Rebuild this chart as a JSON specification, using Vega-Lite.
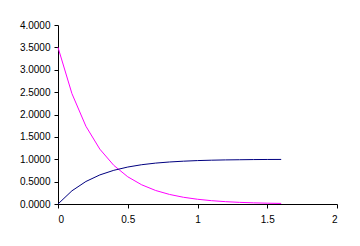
{
  "$schema": "https://vega.github.io/schema/vega-lite/v6.json",
  "autosize": {"type": "none"},
  "padding": {"left": 58, "top": 25, "right": 23, "bottom": 42},
  "width": 279,
  "height": 179,
  "background": "white",
  "config": {"view": {"stroke": null}},
  "data": {"values": [
    {"t": 0.0, "s": "A", "v": 3.5},
    {"t": 0.1, "s": "A", "v": 2.466},
    {"t": 0.2, "s": "A", "v": 1.738},
    {"t": 0.3, "s": "A", "v": 1.225},
    {"t": 0.4, "s": "A", "v": 0.863},
    {"t": 0.5, "s": "A", "v": 0.608},
    {"t": 0.6, "s": "A", "v": 0.429},
    {"t": 0.7, "s": "A", "v": 0.302},
    {"t": 0.8, "s": "A", "v": 0.213},
    {"t": 0.9, "s": "A", "v": 0.150},
    {"t": 1.0, "s": "A", "v": 0.106},
    {"t": 1.1, "s": "A", "v": 0.0745},
    {"t": 1.2, "s": "A", "v": 0.0525},
    {"t": 1.3, "s": "A", "v": 0.037},
    {"t": 1.4, "s": "A", "v": 0.026},
    {"t": 1.5, "s": "A", "v": 0.0184},
    {"t": 1.6, "s": "A", "v": 0.013},
    {"t": 0.0, "s": "B", "v": 0.0},
    {"t": 0.1, "s": "B", "v": 0.295},
    {"t": 0.2, "s": "B", "v": 0.503},
    {"t": 0.3, "s": "B", "v": 0.650},
    {"t": 0.4, "s": "B", "v": 0.753},
    {"t": 0.5, "s": "B", "v": 0.826},
    {"t": 0.6, "s": "B", "v": 0.878},
    {"t": 0.7, "s": "B", "v": 0.914},
    {"t": 0.8, "s": "B", "v": 0.939},
    {"t": 0.9, "s": "B", "v": 0.957},
    {"t": 1.0, "s": "B", "v": 0.970},
    {"t": 1.1, "s": "B", "v": 0.979},
    {"t": 1.2, "s": "B", "v": 0.985},
    {"t": 1.3, "s": "B", "v": 0.989},
    {"t": 1.4, "s": "B", "v": 0.993},
    {"t": 1.5, "s": "B", "v": 0.995},
    {"t": 1.6, "s": "B", "v": 0.996}
  ]},
  "mark": {"type": "line", "strokeWidth": 1},
  "encoding": {
    "x": {
      "field": "t", "type": "quantitative",
      "scale": {"domain": [0, 2], "nice": false},
      "axis": {"title": null, "values": [0, 0.5, 1, 1.5, 2], "format": "~g", "grid": false,
        "domainColor": "black", "tickColor": "black", "tickSize": 4,
        "labelFont": "Liberation Sans", "labelFontSize": 10, "labelColor": "black", "labelPadding": 6}
    },
    "y": {
      "field": "v", "type": "quantitative",
      "scale": {"domain": [0, 4], "nice": false},
      "axis": {"title": null, "values": [0, 0.5, 1, 1.5, 2, 2.5, 3, 3.5, 4], "format": ".4f", "grid": false,
        "domainColor": "black", "tickColor": "black", "tickSize": 4,
        "labelFont": "Liberation Sans", "labelFontSize": 10, "labelColor": "black", "labelPadding": 4}
    },
    "color": {
      "field": "s", "type": "nominal",
      "scale": {"domain": ["A", "B"], "range": ["#FF00FF", "#000080"]},
      "legend": null
    }
  }
}
